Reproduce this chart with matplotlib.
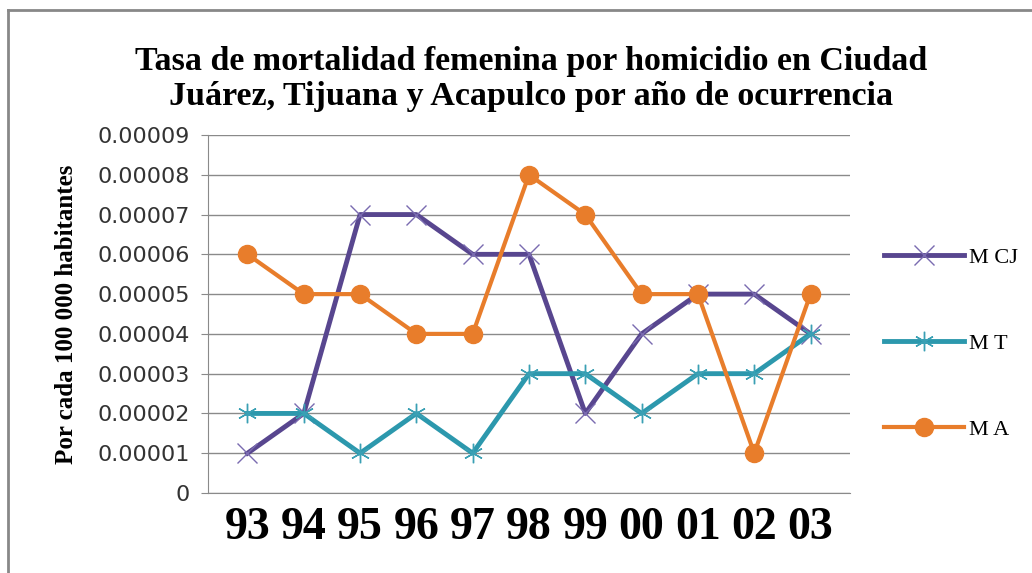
import matplotlib.pyplot as plt
from matplotlib.ticker import FuncFormatter, MultipleLocator
from matplotlib.lines import Line2D

# Data (rates)
years = ["93", "94", "95", "96", "97", "98", "99", "00", "01", "02", "03"]
m_cj = [0.00001, 0.00002, 0.00007, 0.00007, 0.00006, 0.00006, 0.00002, 0.00004, 0.00005, 0.00005, 0.00004]
m_t = [0.00002, 0.00002, 0.00001, 0.00002, 0.00001, 0.00003, 0.00003, 0.00002, 0.00003, 0.00003, 0.00004]
m_a = [0.00006, 0.00005, 0.00005, 0.00004, 0.00004, 0.00008, 0.00007, 0.00005, 0.00005, 0.00001, 0.00005]

C_CJ = "#58468f"
C_T = "#2c98ad"
C_A = "#e87d2b"

fig = plt.figure(figsize=(10.32, 5.73), dpi=100)
ax = fig.add_axes([0.2016, 0.1396, 0.622, 0.6248])

x = list(range(len(years)))
ax.plot(x, m_cj, color=C_CJ, linewidth=3.5, marker="x", markersize=14,
        markeredgewidth=1.0, markeredgecolor="#7a6bb0", label="M CJ", zorder=3)
ax.plot(x, m_t, color=C_T, linewidth=3.5, marker=(6, 2, 0), markersize=14,
        markeredgewidth=1.0, markeredgecolor="#3aa0b4", label="M T", zorder=3)
ax.plot(x, m_a, color=C_A, linewidth=3.0, marker="o", markersize=13,
        markeredgecolor=C_A, label="M A", zorder=4)

ax.set_xlim(-0.7, len(years) - 0.3)
ax.set_ylim(0, 0.00009)
ax.yaxis.set_major_locator(MultipleLocator(0.00001))
ax.yaxis.set_major_formatter(FuncFormatter(lambda v, p: "0" if abs(v) < 1e-12 else f"{v:.5f}"))
ax.grid(axis="y", color="#8a8a8a", linewidth=1.0)
ax.set_axisbelow(True)

ax.set_xticks(x)
ax.set_xticklabels(years, fontfamily="Liberation Serif", fontweight="bold", fontsize=33)
ax.tick_params(axis="x", length=0, pad=10)
ax.tick_params(axis="y", labelsize=16, length=5, color="#8a8a8a", pad=8)
for t in ax.get_yticklabels():
    t.set_color("#333333")

for s in ["top", "right"]:
    ax.spines[s].set_visible(False)
ax.spines["left"].set_color("#8a8a8a")
ax.spines["bottom"].set_color("#8a8a8a")

ax.set_ylabel("Por cada 100 000 habitantes", fontfamily="Liberation Serif",
              fontweight="bold", fontsize=18, labelpad=14)

fig.text(0.515, 0.862, "Tasa de mortalidad femenina por homicidio en Ciudad\nJuárez, Tijuana y Acapulco por año de ocurrencia",
         ha="center", va="center", fontfamily="Liberation Serif", fontweight="bold",
         fontsize=24.5, linespacing=1.15)

leg = fig.legend(loc="center left", bbox_to_anchor=(0.852, 0.40), frameon=False,
                 labelspacing=2.95, handlelength=3.6, handletextpad=0.25,
                 borderaxespad=0.0, borderpad=0.2,
                 prop={"family": "Liberation Serif", "size": 16})

# outer chart frame (cropped)
fig.add_artist(Line2D([0.008, 1.0], [0.983, 0.983], color="#888888", linewidth=2, transform=fig.transFigure))
fig.add_artist(Line2D([0.008, 0.008], [0.0, 0.983], color="#888888", linewidth=2, transform=fig.transFigure))

fig.savefig("out.png", dpi=100)
